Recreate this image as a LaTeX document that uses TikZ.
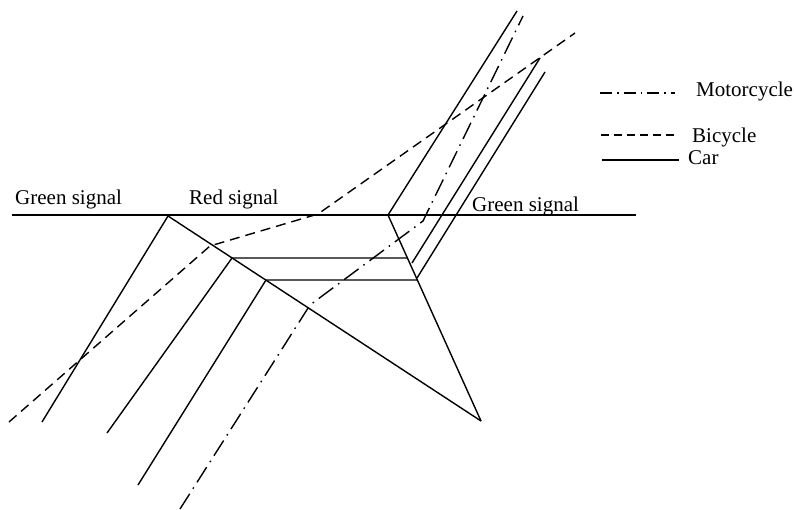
\documentclass[tikz,border=0pt]{standalone}
\usepackage{fontspec}
\setmainfont{Liberation Serif}
\begin{document}
\begin{tikzpicture}[x=1pt,y=-1pt,
  traj/.style={line width=1.4pt,line cap=butt},
  bike/.style={traj,dash pattern=on 10pt off 6pt},
  moto/.style={traj,dash pattern=on 18pt off 6pt on 1.6pt off 6pt},
  lbl/.style={anchor=base west,inner sep=0pt,font=\fontsize{21}{25}\selectfont}]
\useasboundingbox (0,0) rectangle (794,510);
% key points
\coordinate (sl) at (12,215);
\coordinate (sr) at (636,215);
\coordinate (q1) at (168,216);
\coordinate (q2) at (232,258);
\coordinate (q3) at (266,280);
\coordinate (apex) at (481,421);
\coordinate (d1) at (388,215);
\coordinate (d2) at (407,258);
\coordinate (d3) at (417,280);
% signal line
\draw[traj] (sl) -- (sr);
% queue shock waves
\draw[traj] (q1) -- (apex);
\draw[traj] (d1) -- (apex);
% car 1
\coordinate (c1a) at (42,422);
\coordinate (c1b) at (517,11);
\draw[traj] (c1a) -- (q1);
\draw[traj] (d1) -- (c1b);
% car 2
\coordinate (c2a) at (107,433);
\coordinate (c2s) at (412,263);
\coordinate (c2b) at (540,58);
\draw[traj] (c2a) -- (q2) -- (d2);
\draw[traj] (c2s) -- (c2b);
% car 3
\coordinate (c3a) at (138,485);
\coordinate (c3s) at (417,278);
\coordinate (c3b) at (545,72);
\draw[traj] (c3a) -- (q3) -- (d3);
\draw[traj] (c3s) -- (c3b);
% bicycle
\coordinate (b1) at (9,422);
\coordinate (b2) at (210,246);
\coordinate (b3) at (318,214);
\coordinate (b4) at (575,33);
\draw[bike] (b1) -- (b2) -- (b3) -- (b4);
% motorcycle
\coordinate (m1) at (180,509);
\coordinate (m2) at (310,305);
\coordinate (m3) at (423,221);
\coordinate (m4) at (523,16);
\draw[moto] (m1) -- (m2) -- (m3) -- (m4);
% labels
\node[lbl] (gl) at (15,205) {Green signal};
\node[lbl] (rs) at (189,205) {Red signal};
\node[lbl] (gr) at (472,212) {Green signal};
% legend
\coordinate (lm1) at (600,93); \coordinate (lm2) at (675,93);
\coordinate (lb1) at (601,135); \coordinate (lb2) at (677,135);
\coordinate (lc1) at (602,160); \coordinate (lc2) at (679,160);
\draw[moto,dash pattern=on 12pt off 5pt on 1.6pt off 5pt] (lm1) -- (lm2);
\draw[bike,dash pattern=on 8pt off 5pt] (lb1) -- (lb2);
\draw[traj] (lc1) -- (lc2);
\node[lbl] (lmt) at (696,97) {Motorcycle};
\node[lbl] (lbt) at (692,143) {Bicycle};
\node[lbl] (lct) at (688,165) {Car};
\end{tikzpicture}
\end{document}
